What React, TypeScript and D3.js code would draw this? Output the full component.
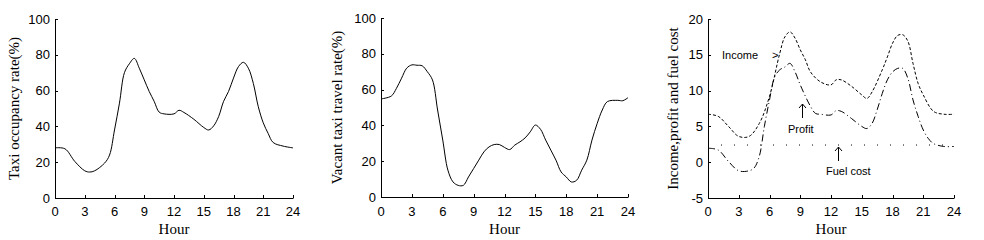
import React from "react";
import * as d3 from "d3";

const hours1 = [0, 1, 2, 3, 3.5, 4, 5, 5.5, 6, 6.5, 7, 7.5, 8, 8.5, 9, 9.5, 10, 10.5, 11, 12, 12.5, 13, 14, 15, 15.5, 16, 16.5, 17, 17.5, 18, 18.5, 19, 19.5, 20, 20.5, 21, 21.5, 22, 23, 24];
const occupancy = [28, 27.5, 20.4, 15.2, 14.5, 15.2, 19.5, 24, 38, 53, 70, 75, 78, 72.5, 66, 59.5, 54, 48, 47, 47, 49, 47.8, 44, 39.4, 38, 40.3, 45.5, 54, 59.5, 67, 73.4, 75.8, 72.5, 64, 51, 42, 36, 31, 29, 28];

const hours2 = [0, 1, 1.5, 2, 2.5, 3, 3.5, 4, 4.5, 5, 5.5, 6, 6.5, 7, 7.5, 8, 8.5, 9, 9.5, 10, 10.5, 11, 11.5, 12, 12.5, 13, 13.5, 14, 14.5, 15, 15.5, 16, 16.5, 17, 17.5, 18, 18.5, 19, 19.5, 20, 20.5, 21, 21.5, 22, 23, 23.5, 24];
const vacant = [54.8, 56.4, 60.7, 66.4, 72, 73.8, 73.6, 73.3, 70, 65.4, 48.6, 31.8, 15, 8.4, 6.5, 6.5, 11.2, 15.9, 20.6, 25.2, 28, 29.3, 29.3, 27.7, 26.5, 29, 30.8, 33, 36.4, 40.2, 37.8, 31.8, 26.2, 20.6, 14, 11.2, 8.4, 9.3, 15, 20.6, 31.8, 41, 48.6, 53.3, 54, 53.8, 55.5];

const hoursIncome = [0, 1, 2, 3, 4, 5, 6, 7, 7.5, 8, 8.5, 9, 9.5, 10, 11, 12, 12.5, 13, 14, 15, 15.5, 16, 17, 17.5, 18, 18.5, 19, 19.5, 20, 20.5, 21, 22, 23, 24];
const income = [6.7, 6.4, 5.0, 3.6, 3.6, 5.4, 9.2, 15.2, 17.5, 18.2, 17.3, 15.7, 14.3, 12.6, 11.2, 10.8, 11.5, 11.5, 10.6, 9.4, 8.9, 9.8, 12.9, 14.7, 16.6, 17.7, 17.8, 16.9, 13.8, 11, 9.4, 7.1, 6.7, 6.7];

const hoursProfit = [0, 1, 2, 3, 4, 4.5, 5, 5.5, 6, 6.5, 7, 7.5, 8, 8.5, 9, 10, 10.5, 11, 12, 12.5, 13, 14, 15, 15.5, 16, 16.5, 17, 17.5, 18, 18.5, 19, 19.5, 20, 20.5, 21, 21.5, 22, 23, 24];
const profit = [1.95, 1.7, 0.1, -1.2, -1.2, -0.8, 0.8, 5, 8.7, 11.9, 12.9, 13.3, 13.8, 12.6, 10.8, 7.8, 6.8, 6.7, 6.6, 7.2, 7.1, 6.1, 5.0, 4.7, 5.4, 7.3, 9.6, 11.5, 12.6, 13.1, 13.1, 11.7, 8.7, 6.4, 4.5, 3.3, 2.6, 2.2, 2.2];

const hoursFuel = [0, 24];
const fuel = [2.4, 2.4];

const xTicks = [0, 3, 6, 9, 12, 15, 18, 21, 24];
const yTicksRate = [0, 20, 40, 60, 80, 100];
const yTicksMoney = [-5, 0, 5, 10, 15, 20];

const tickFont = "'Liberation Sans', Arial, sans-serif";
const titleFont = "'Liberation Serif', 'Times New Roman', serif";

type Series = { xs: number[]; ys: number[]; dash?: string };

function Panel(props: {
  left: number; right: number; top: number; bottom: number;
  domain: [number, number]; yTicks: number[]; series: Series[];
  yTitle: string; yTitleX: number; children?: React.ReactNode;
}) {
  const { left, right, top, bottom, domain, yTicks, series, yTitle, yTitleX } = props;
  const x = d3.scaleLinear().domain([0, 24]).range([left, right]);
  const y = d3.scaleLinear().domain(domain).range([bottom, top]);
  const line = d3.line<[number, number]>().x(d => x(d[0])).y(d => y(d[1])).curve(d3.curveCatmullRom.alpha(0.5));
  return (
    <g>
      <line x1={left + 0.5} x2={left + 0.5} y1={top} y2={bottom + 0.5} stroke="#000" />
      <line x1={left} x2={right + 0.5} y1={bottom + 0.5} y2={bottom + 0.5} stroke="#000" />
      {xTicks.map(t => (
        <g key={"x" + t}>
          <line x1={Math.round(x(t)) + 0.5} x2={Math.round(x(t)) + 0.5} y1={bottom} y2={bottom - 3} stroke="#000" />
          <text x={x(t)} y={216} textAnchor="middle" fontFamily={tickFont} fontSize={13}>{t}</text>
        </g>
      ))}
      {yTicks.map(t => (
        <g key={"y" + t}>
          <line x1={left} x2={left + 3} y1={Math.round(y(t)) + 0.5} y2={Math.round(y(t)) + 0.5} stroke="#000" />
          <text x={left - 5} y={y(t) + 4.5} textAnchor="end" fontFamily={tickFont} fontSize={13}>{t}</text>
        </g>
      ))}
      {series.map((s, i) => (
        <path key={i} d={line(s.xs.map((h, j) => [h, s.ys[j]] as [number, number])) || ""}
          fill="none" stroke="#000" strokeWidth={1} strokeDasharray={s.dash} />
      ))}
      <text x={(left + right) / 2} y={234} textAnchor="middle" fontFamily={titleFont} fontSize={15}>Hour</text>
      <text transform={`translate(${yTitleX},${(top + bottom) / 2}) rotate(-90)`} textAnchor="middle"
        fontFamily={titleFont} fontSize={15}>{yTitle}</text>
      {props.children}
    </g>
  );
}

export default function App() {
  const annot = { fontFamily: tickFont, fontSize: 11 };
  return (
    <svg width={984} height={240} style={{ position: "fixed", left: 0, top: 0, background: "#fff" }}>
      <rect width={984} height={240} fill="#fff" />
      <Panel left={55} right={293} top={19} bottom={198} domain={[0, 100]} yTicks={yTicksRate}
        series={[{ xs: hours1, ys: occupancy }]} yTitle="Taxi occupancy rate(%)" yTitleX={19} />
      <Panel left={381} right={628} top={18} bottom={197} domain={[0, 100]} yTicks={yTicksRate}
        series={[{ xs: hours2, ys: vacant }]} yTitle="Vacant taxi travel rate(%)" yTitleX={342} />
      <Panel left={708} right={954} top={19} bottom={198} domain={[-5, 20]} yTicks={yTicksMoney}
        series={[
          { xs: hoursIncome, ys: income, dash: "3,2" },
          { xs: hoursProfit, ys: profit, dash: "7,3,1,3" },
          { xs: hoursFuel, ys: fuel, dash: "1,12" },
        ]} yTitle="Income,profit and fuel cost" yTitleX={678}>
        <text x={722} y={59} {...annot}>Income</text>
        <text x={772} y={59} {...annot}>&gt;</text>
        <text x={788} y={133} {...annot}>Profit</text>
        <line x1={802.5} x2={802.5} y1={104} y2={118} stroke="#000" />
        <path d="M799,108 L802.5,104 L806,108" fill="none" stroke="#000" />
        <text x={826} y={175} {...annot}>Fuel cost</text>
        <line x1={838.5} x2={838.5} y1={147} y2={161} stroke="#000" />
        <path d="M835,151 L838.5,147 L842,151" fill="none" stroke="#000" />
      </Panel>
    </svg>
  );
}
